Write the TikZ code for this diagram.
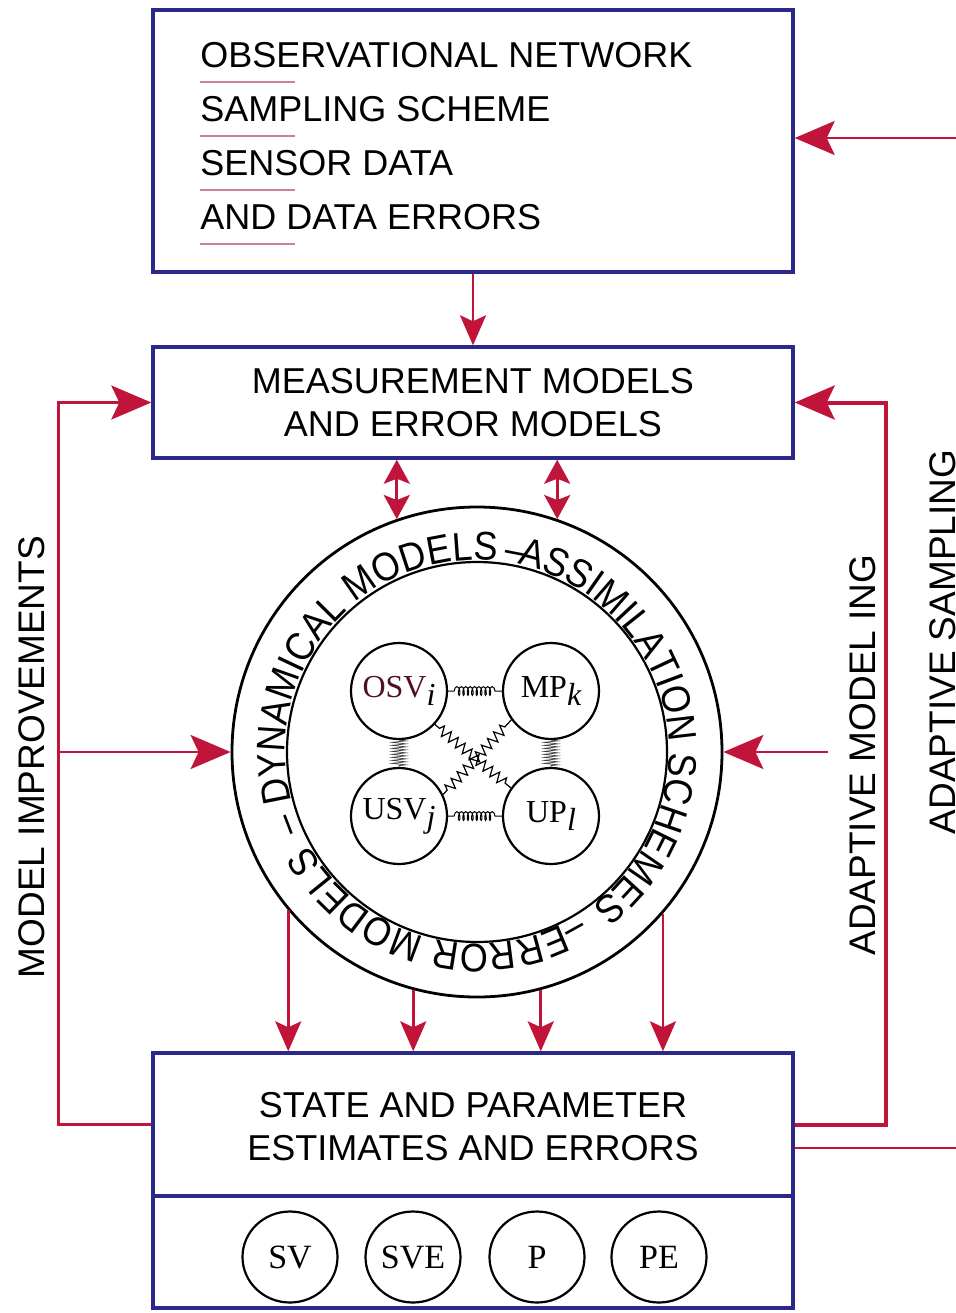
\documentclass[tikz,border=0pt]{standalone}
\usepackage{fontspec}
\setmainfont{Liberation Serif}
\newfontfamily\lsans{Liberation Sans}
\newfontfamily\ringface[FakeStretch=0.9]{Liberation Sans}
\usetikzlibrary{arrows.meta,decorations.text,decorations.pathmorphing,shapes.geometric,calc}

\definecolor{boxblue}{RGB}{43,40,140}
\definecolor{linkred}{RGB}{192,20,58}
\definecolor{ulpink}{RGB}{204,130,150}
\definecolor{osvred}{RGB}{80,15,35}

\newcommand\subsc[1]{\raisebox{-0.55ex}{\itshape #1}}
\newcommand\ringtext[3]{%
  \path[decorate, decoration={text along path, text align=left,
     text={|\ringface\fontsize{20}{22}\selectfont|#1}}]
     (ring.center) ++(#2:96pt) arc[start angle=#2, end angle=#3, radius=96pt];}

\begin{document}
\begin{tikzpicture}[x=0.5pt,y=-0.5pt,
  blk/.style={draw=boxblue, line width=1.7pt, minimum width=320pt, inner sep=0pt},
  lab/.style={font=\fontsize{18}{21.5}\selectfont\lsans, align=center, inner sep=0pt},
  side/.style={font=\fontsize{18.5}{21.5}\selectfont\lsans, inner sep=0pt, rotate=90},
  obstxt/.style={font=\fontsize{18}{20}\selectfont\lsans, anchor=base west, inner sep=0pt},
  ul/.style={draw=ulpink, line width=1.3pt},
  link/.style={draw=linkred, line width=1.4pt},
  big/.style={link, -{Stealth[length=20pt,width=17pt,inset=4pt]}},
  small/.style={link, -{Stealth[length=15pt,width=13pt,inset=3pt]}},
  dbl/.style={link, {Stealth[length=12pt,width=13pt,inset=2.5pt]}-{Stealth[length=12pt,width=13pt,inset=2.5pt]}},
  sm/.style={circle, draw, line width=1.1pt, minimum size=48pt, inner sep=0pt, font=\fontsize{16}{18}\selectfont},
  ell/.style={ellipse, draw, line width=1.1pt, minimum width=47.5pt, minimum height=45.5pt, inner sep=0pt, font=\fontsize{17}{19}\selectfont},
  coilh/.style={line width=0.5pt, decorate, decoration={coil, amplitude=2.2pt, segment length=2.2pt, aspect=0.4, pre length=3pt, post length=1.5pt}},
  coilv/.style={line width=0.35pt, draw=black!75, decorate, decoration={zigzag, amplitude=3.5pt, segment length=1.5pt}},
  zz/.style={line width=0.6pt, decorate, decoration={zigzag, amplitude=2.5pt, segment length=4.5pt, pre length=3pt, post length=3pt}}
]
\useasboundingbox (0,0) rectangle (956,1313);

% boxes
\node[blk, minimum height=131pt] (obs) at (473,141) {};
\node[blk, minimum height=55.5pt] (meas) at (473,402.5) {};
\node[blk, minimum height=71.5pt] (est) at (473,1124.5) {};
\node[blk, minimum height=56pt] (estlow) at (473,1252) {};

% top box text
\node[obstxt] (o1) at (200,67) {OBSERVATIONAL NETWORK};
\node[obstxt] (o2) at (200,121) {SAMPLING SCHEME};
\node[obstxt] (o3) at (200,175) {SENSOR DATA};
\node[obstxt] (o4) at (200,229) {AND DATA ERRORS};
\foreach \yy in {82,136,190,244} \draw[ul] (200,\yy) -- (295,\yy);

\node[lab] (meastxt) at (473,403) {MEASUREMENT MODELS\\AND ERROR MODELS};
\node[lab] (esttxt) at (473,1126.5) {STATE AND PARAMETER\\ESTIMATES AND ERRORS};

% ring
\node[circle, draw, line width=1.4pt, minimum size=245pt, inner sep=0pt] (ring) at (477,752) {};
\node[circle, draw, line width=1.1pt, minimum size=190pt, inner sep=0pt] (inner) at (477,752) {};
\ringtext{DYNAMICAL MODELS}{195}{60}
\ringtext{–}{82}{60}
\ringtext{ASSIMILATION SCHEMES}{78}{-80}
\ringtext{–}{-58}{-80}
\ringtext{ERROR MODELS}{-64}{-170}
\ringtext{–}{-156}{-180}

% inner nodes
\node[sm] (osv) at (399,691) {\textcolor{osvred}{OSV}\subsc{i}};
\node[sm] (mp) at (551,691) {MP\subsc{k}};
\node[sm] (usv) at (399,816) {USV\subsc{j}};
\node[sm] (up) at (551,816) {UP\subsc{l}};
\draw[coilh] (osv.east) -- (mp.west);
\draw[coilh] (usv.east) -- (up.west);
\draw[coilv] (osv.south) -- (usv.north);
\draw[coilv] (mp.south) -- (up.north);
\draw[zz] (osv.-43) -- (up.145);
\draw[zz] (usv.26) -- (mp.216);

% bottom ellipses
\node[ell] (sv) at (290,1257) {SV};
\node[ell] (sve) at (413,1257) {SVE};
\node[ell] (p) at (537,1257) {P};
\node[ell] (pe) at (659,1257) {PE};

% connectors
\draw[small] (obs.south) -- (meas.north);
\draw[dbl] (ring.109.3 |- meas.south) -- (ring.109.3);
\draw[dbl] (ring.71 |- meas.south) -- (ring.71);
\foreach \a in {-140,-105.2,-75.7,-41.6}
  \draw[small] (ring.\a) -- (ring.\a |- est.north);

\coordinate (lb) at (60,752);
\coordinate (rb) at (828,752);
\coordinate (tr) at (960,138);
\coordinate (br) at (960,1148);
\draw[big] (est.west) -- ++(-93,0) |- (meas.west);
\draw[big] (lb) -- (ring.west);
\draw[big, line width=2pt] (est.east) -- ++(91,0) |- (meas.east);
\draw[big] (rb) -- (ring.east);
\draw[big] (tr) -- (obs.east |- tr);
\draw[link] (est.east |- br) -- (br);

% side labels
\node[side] (mi) at (32,757) {MODEL IMPROVEMENTS};
\node[side] (am) at (863,755) {ADAPTIVE MODEL ING};
\node[side] (as) at (943,642) {ADAPTIVE SAMPLING};
\end{tikzpicture}
\end{document}
